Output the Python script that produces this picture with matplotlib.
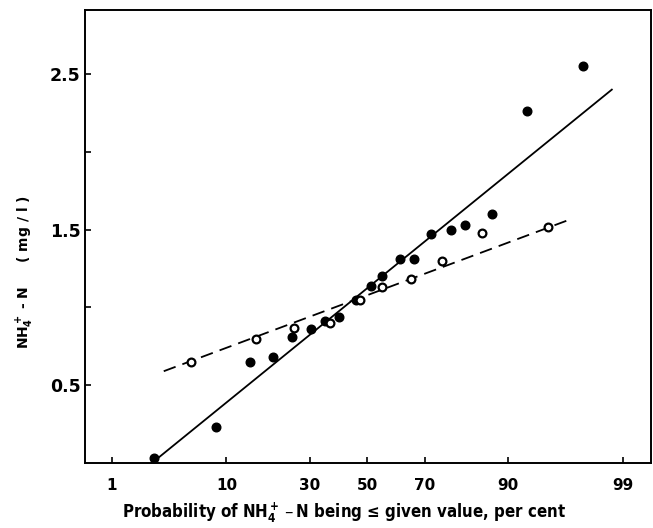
import numpy as np
import matplotlib
matplotlib.use("Agg")
import matplotlib.pyplot as plt
from statistics import NormalDist

# cumulative probability (per cent) and NH4-N concentration (mg/l)
filled_prob = [2.6, 8.4, 14.2, 19.6, 24.8, 30.3, 35.0, 39.9, 46.1, 51.2,
               55.5, 61.6, 66.4, 72.0, 77.6, 81.2, 87.1, 92.7, 97.5]
filled_conc = [0.03, 0.23, 0.65, 0.68, 0.81, 0.86, 0.91, 0.94, 1.05, 1.14,
               1.20, 1.31, 1.31, 1.47, 1.50, 1.53, 1.60, 2.26, 2.55]

open_prob = [5.4, 15.6, 25.2, 36.7, 47.3, 55.2, 65.6, 75.3, 85.2, 95.0]
open_conc = [0.65, 0.80, 0.87, 0.90, 1.05, 1.13, 1.18, 1.30, 1.48, 1.52]

# fitted lines, given by their end points
solid_prob = [2.5, 98.7]
solid_conc = [0.0, 2.40]
dashed_prob = [3.2, 96.6]
dashed_conc = [0.59, 1.56]

xticks = [1, 10, 30, 50, 70, 90, 99]
yticks = [0.5, 1.5, 2.5]
yminor = [1.0, 2.0]

_nd = NormalDist()


def prob_fwd(p):
    p = np.asarray(p, dtype=float)
    p = np.clip(np.where(np.isfinite(p), p, 50.0), 1e-4, 100 - 1e-4)
    return np.vectorize(lambda v: _nd.inv_cdf(v / 100.0), otypes=[float])(p)


def prob_inv(z):
    z = np.asarray(z, dtype=float)
    z = np.where(np.isfinite(z), z, 0.0)
    return np.vectorize(lambda v: _nd.cdf(v) * 100.0, otypes=[float])(z)


def main():
    plt.rcParams['font.family'] = ['DejaVu Sans']
    plt.rcParams['font.weight'] = 'bold'
    plt.rcParams['mathtext.default'] = 'regular'

    fig = plt.figure(figsize=(6.53, 5.28), dpi=100)
    ax = fig.add_axes([85 / 653, 1 - 463 / 528, (651 - 85) / 653, (463 - 9.5) / 528])
    ax.set_xscale('function', functions=(prob_fwd, prob_inv))

    ax.plot(solid_prob, solid_conc, color='black', lw=1.3, zorder=2)
    ax.plot(dashed_prob, dashed_conc, color='black', lw=1.3,
            linestyle=(0, (7, 4)), zorder=2)
    ax.plot(filled_prob, filled_conc, 'o', color='black', ms=6.2, zorder=3)
    ax.plot(open_prob, open_conc, 'o', mfc='white', mec='black', mew=1.6,
            ms=5.6, zorder=4)

    ax.set_xlim(0.51, 99.51)
    ax.set_ylim(0.0, 2.915)

    ax.set_xticks(xticks)
    ax.set_xticklabels([str(t) for t in xticks], fontsize=11, fontweight='bold')
    ax.xaxis.set_minor_locator(matplotlib.ticker.NullLocator())
    ax.set_yticks(yticks)
    ax.set_yticklabels([str(t) for t in yticks], fontsize=12.5, fontweight='bold')
    ax.set_yticks(yminor, minor=True)

    ax.tick_params(axis='both', which='both', direction='in', length=4, width=1.2)
    ax.tick_params(axis='x', pad=11)
    ax.tick_params(axis='y', pad=3)
    for s in ax.spines.values():
        s.set_linewidth(1.4)

    xl = ax.set_xlabel('Probability of NH$_4^+$\u2009\u2013\u2009N being \u2264 given value, per cent',
                       family=['DejaVu Sans'], fontstretch='condensed',
                       fontsize=15, fontweight='bold', va='top')
    ax.xaxis.set_label_coords(0.4576, -0.083)
    ax.set_ylabel('NH$_4^+$ - N     ( mg / l )', fontsize=10, fontweight='bold')
    ax.yaxis.set_label_coords(-0.087, 0.42)

    # keep the axis title within the width of the printed one
    fig.canvas.draw()
    w = xl.get_window_extent().width
    if w > 445:
        xl.set_fontsize(15 * 445 / w)

    fig.savefig('out.png', dpi=100)
    plt.close(fig)


if __name__ == '__main__':
    main()
